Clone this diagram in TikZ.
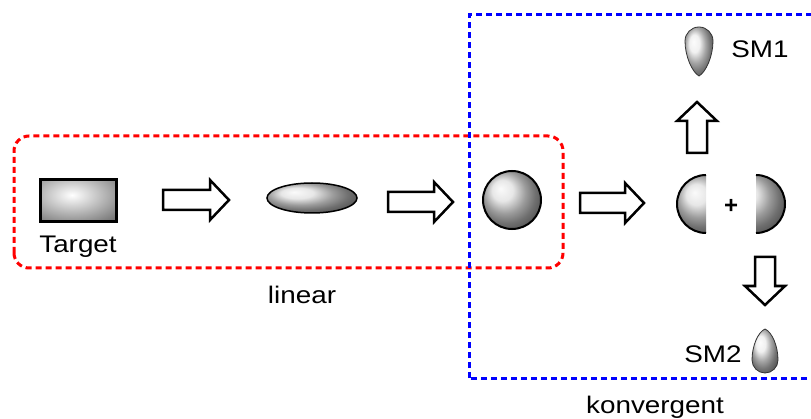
\documentclass[tikz,border=0pt]{standalone}
\usepackage{fontspec}
\setmainfont{Liberation Sans}
\newfontfamily\lblfont[FakeStretch=1.16]{Liberation Sans}
\usetikzlibrary{shapes.geometric}
\tikzset{
  lbl/.style={font=\lblfont\fontsize{24}{28}\selectfont, anchor=base, inner sep=0pt},
  arrowline/.style={draw=black, fill=white, line width=2.5pt, line join=miter},
  pics/hollow/.style={code={
    \draw[arrowline] (0,-10) -- ({#1-19},-10) -- ({#1-19},-20) -- (#1,0)
      -- ({#1-19},20) -- ({#1-19},10) -- (0,10) -- cycle;}},
  groupline/.style={line width=3pt, dash pattern=on 6pt off 4pt},
  bead/.style={ball color=gray!25},
  droplet/.style={ball color=gray!15},
}
\begin{document}
\begin{tikzpicture}[x=1pt, y=1pt]
\useasboundingbox (0,0) rectangle (811,418);
\clip (0,0) rectangle (811,418);

% group frames
\draw[groupline, red, rounded corners=15pt] (14,150) rectangle (563,282);
\draw[groupline, blue] (469,40) rectangle (830,403);

% target block: broad highlight left of centre, dark rim
\begin{scope}
  \clip (40,196) rectangle (116,238);
  \fill[gray!50!black] (40,196) rectangle (116,238);
  \shade[inner color=white, outer color=gray!50!black] (72,223) ellipse (84 and 46);
\end{scope}
\node[rectangle, minimum width=76pt, minimum height=42pt, inner sep=0pt,
      draw=black, line width=3pt] (target) at (78,217) {};
\node[lbl] (targetlbl) at (78,165) {Target};

% intermediates
\node[ellipse, minimum width=90pt, minimum height=30pt, inner sep=0pt,
      bead, draw=black, line width=1.5pt] (ell) at (312,220) {};
\node[circle, minimum size=58pt, inner sep=0pt, bead, draw=black, line width=2pt]
  (ball) at (512,218) {};

% half spheres
\begin{scope}
  \clip (670,180) rectangle (706,250);
  \shade[bead] (706,214) circle (29);
\end{scope}
\draw[line width=2pt] (706,243) arc[start angle=90, end angle=270, radius=29];
\begin{scope}
  \clip (756,180) rectangle (792,250);
  \shade[bead] (756,214) circle (29);
\end{scope}
\draw[line width=2pt] (756,243) arc[start angle=90, end angle=-90, radius=29];
\node[font=\fontsize{24}{28}\selectfont\bfseries, inner sep=0pt] (plus) at (731,212) {+};

% block arrows
\pic at (163,218) {hollow=66};
\pic at (388,216) {hollow=65};
\pic at (580,215) {hollow=64};
\pic[rotate=90] at (697,265) {hollow=51};
\pic[rotate=-90] at (765,161) {hollow=48};

% fragments
\shade[droplet] (699,342) .. controls (692,346) and (685,362) .. (685,377)
  arc[start angle=180, end angle=0, radius=14]
  .. controls (713,362) and (706,346) .. cycle;
\draw[line width=0.8pt, black!80] (699,342) .. controls (692,346) and (685,362) .. (685,377)
  arc[start angle=180, end angle=0, radius=14]
  .. controls (713,362) and (706,346) .. cycle;
\node[lbl] (sm1) at (760,360) {SM1};

\shade[droplet] (765,89) .. controls (758,86) and (752,72) .. (752,58)
  arc[start angle=180, end angle=360, radius=13]
  .. controls (778,72) and (772,86) .. cycle;
\draw[line width=0.8pt, black!80] (765,89) .. controls (758,86) and (752,72) .. (752,58)
  arc[start angle=180, end angle=360, radius=13]
  .. controls (778,72) and (772,86) .. cycle;
\node[lbl] (sm2) at (713,56) {SM2};

% group captions
\node[lbl] (lin) at (302,114) {linear};
\node[lbl] (konv) at (655,5) {konvergent};
\end{tikzpicture}
\end{document}
